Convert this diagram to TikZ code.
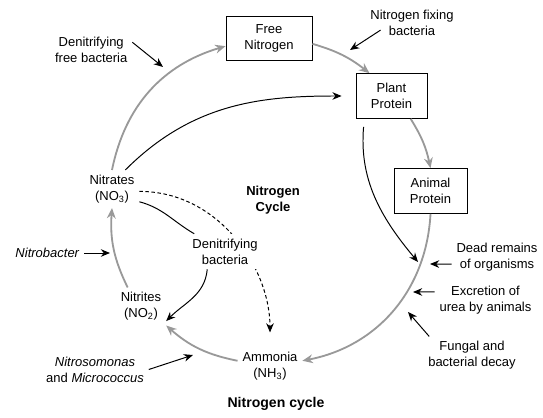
\documentclass[tikz,border=0pt]{standalone}
\usepackage{fontspec}
\setmainfont{Liberation Sans}
\usetikzlibrary{arrows.meta,backgrounds}
\newcommand\diagfont{\fontsize{9.25pt}{11.4pt}\selectfont}

\begin{document}
\begin{tikzpicture}
[font=\diagfont,
box/.style={rectangle,draw=black,line width=0.6pt,minimum height=1.12cm,align=center},
txt/.style={align=center},
ring/.style={draw=black!40,line width=1.3pt,-{Stealth[length=2.6mm,width=2.2mm]}},
flow/.style={draw=black,line width=0.7pt,-{Stealth[length=2.3mm,width=1.9mm]}}]
\useasboundingbox (0,0) rectangle (13.575,10.425);
\node[box,minimum width=2.15cm] (free nitrogen) at (6.725,9.4625) {Free\\Nitrogen};
\node[box,minimum width=1.775cm] (plant protein) at (9.7875,8.025) {Plant\\Protein};
\node[box,minimum width=1.825cm] (animal protein) at (10.7625,5.65) {Animal\\Protein};
\node[txt] (nitrates) at (2.8,5.7) {Nitrates\\(NO\textsubscript{3})};
\node[txt] (nitrites) at (3.525,2.7625) {Nitrites\\(NO\textsubscript{2})};
\node[txt] (ammonia) at (6.75,1.2625) {Ammonia\\(NH\textsubscript{3})};
\node[txt,fill=white] (denitrifying) at (5.625,4.1375) {Denitrifying\\bacteria};
\node[txt,font=\diagfont\bfseries] (cycle title) at (6.825,5.425) {Nitrogen\\Cycle};
\node[font=\fontsize{10pt}{12pt}\selectfont\bfseries] (caption) at (6.9,0.325) {Nitrogen cycle};
% labels beside the cycle
\node[txt] (fixing bacteria) at (10.3,9.85) {Nitrogen fixing\\bacteria};
\node[txt] (free bacteria) at (2.28,9.1875) {Denitrifying\\free bacteria};
\node[txt] (nitrobacter) at (1.1875,4.1) {\textit{Nitrobacter}};
\node[txt] (nitrosomonas) at (2.375,1.1875) {\textit{Nitrosomonas}\\and \textit{Micrococcus}};
\node[txt] (dead remains) at (12.425,4.0) {Dead remains\\of organisms};
\node[txt] (excretion) at (12.1375,2.925) {Excretion of\\urea by animals};
\node[txt] (decay) at (11.8,1.5375) {Fungal and\\bacterial decay};
\coordinate (fixing tip) at (8.75,9.175);
\coordinate (free tip) at (4.075,8.75);
\coordinate (nitrobacter tip) at (2.75,4.1);
\coordinate (nitrosomonas tip) at (4.825,1.55);
\coordinate (dead tip) at (10.75,3.825);
\coordinate (excretion tip) at (10.325,3.125);
\coordinate (decay tip) at (10.2,2.625);
\coordinate (remains) at (10.45,3.875);
% the grey cycle
\draw[ring] (nitrates.north) to[bend left=31] (free nitrogen.190);
\draw[ring] (free nitrogen.-7) to[bend left=11] (plant protein.134);
\draw[ring] (plant protein.-50) to[bend left=10] (animal protein.north);
\draw[ring] (animal protein.south) to[bend left=38] (ammonia.10);
\draw[ring] (ammonia.170) to[bend left=15] (nitrites.south east);
\draw[ring] (nitrites.125) to[bend left=15] (nitrates.south);
% inner paths
\draw[flow,shorten >=0.35cm] (nitrates.55) to[out=45,in=180] (plant protein.west);
\draw[flow,shorten <=0.2cm] (plant protein.-140) to[out=-95,in=130] (remains);
\draw[line width=0.7pt] (nitrates.-25) to[out=-15,in=150] (denitrifying.150);
\draw[flow] (denitrifying.-135) to[out=-95,in=45] (nitrites.-30);
\begin{scope}[on background layer]
\draw[flow,dashed,dash pattern=on 2.5pt off 1.8pt,shorten >=0.375cm] (nitrates.-5) to[out=0,in=90] (ammonia.north);
\end{scope}
% pointers from the labels
\draw[flow,shorten <=-0.45cm] (fixing bacteria.200) -- (fixing tip);
\draw[flow] (free bacteria.10) -- (free tip);
\draw[flow] (nitrobacter.east) -- (nitrobacter tip);
\draw[flow] (nitrosomonas.east) -- (nitrosomonas tip);
\draw[flow] (dead remains.189) -- (dead tip);
\draw[flow] (excretion.171) -- (excretion tip);
\draw[flow] (decay.156) -- (decay tip);
\end{tikzpicture}
\end{document}
